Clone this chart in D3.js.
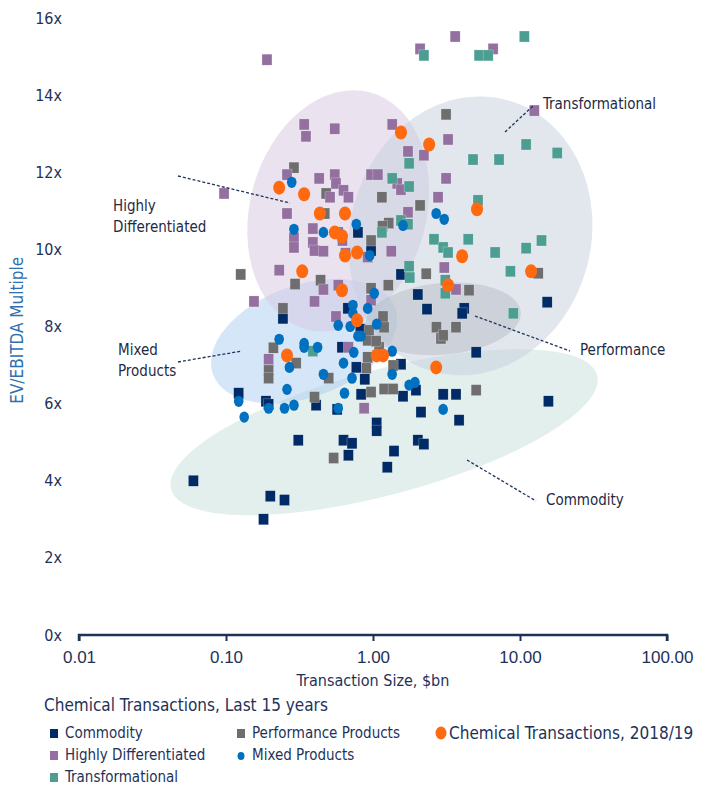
<!DOCTYPE html>
<html>
<head>
<meta charset="utf-8">
<script src="https://cdn.jsdelivr.net/npm/d3@7"></script>
<style>
  body { margin: 0; background: #fff; }
  svg { display: block; font-family: "Liberation Sans Narrow", "DejaVu Sans Condensed", "Roboto Condensed", "Arial Narrow", sans-serif; }
</style>
</head>
<body>
<div id="chart"></div>
<script>
// deal size ($bn), EV/EBITDA multiple
var commodity = [
  [0.06,4.0],[0.20,3.6],[0.25,3.5],[0.18,3.0],[0.31,5.05],[0.63,5.05],[0.72,4.97],[0.68,4.66],
  [1.06,5.5],[1.06,5.3],[1.39,4.77],[1.25,4.35],[2.02,5.05],[2.22,4.95],[0.122,6.27],[0.187,6.06],
  [0.195,5.98],[0.41,5.96],[0.57,5.85],[0.83,6.24],[1.6,6.19],[1.96,6.35],[2.12,5.78],[3.0,6.24],
  [3.67,6.24],[3.85,5.57],[15.6,6.06],[1.55,9.35],[2.02,8.83],[2.33,8.45],[4.17,8.47],[4.04,8.34],
  [15.3,8.63],[5.03,7.33],[1.55,7.02],[0.88,6.63],[0.244,8.21],[0.615,7.46],[0.77,6.94],
  [0.675,8.47],[0.79,10.44],[0.97,9.97],[0.82,7.93]
];
var performance = [
  [0.29,12.12],[0.48,11.45],[1.15,11.35],[2.09,11.14],[3.14,13.5],[0.47,10.93],[1.28,10.68],[1.16,10.6],
  [0.97,10.23],[0.126,9.35],[0.295,9.1],[0.44,9.2],[1.27,9.07],[2.3,9.37],[0.244,8.47],[0.21,7.45],
  [0.195,6.86],[0.195,6.66],[0.30,7.05],[0.92,7.64],[0.94,7.9],[1.19,7.98],[0.9,6.92],[1.1,7.46],
  [0.5,6.66],[0.4,6.17],[0.97,6.3],[1.19,6.38],[1.37,6.38],[2.7,7.98],[2.9,7.69],[0.97,8.99],
  [4.5,8.94],[1.17,8.26],[3.0,7.77],[3.67,7.98],[1.05,7.62],[0.92,7.2],[1.37,6.99],[13.3,9.38],
  [5.03,6.35],[0.54,4.59]
];
var highlyDiff = [
  [0.19,14.92],[2.09,15.2],[3.62,15.52],[6.56,15.2],[12.5,13.6],[1.35,13.24],[3.24,12.85],[1.73,12.54],
  [2.22,12.44],[3.14,11.84],[2.77,11.35],[1.73,10.96],[0.34,13.24],[0.35,12.93],[0.55,13.13],[0.26,11.94],
  [0.43,11.84],[0.55,11.94],[0.56,11.71],[0.63,11.53],[0.68,11.35],[0.51,11.35],[0.97,11.94],[1.08,11.94],
  [1.46,11.71],[1.55,11.55],[0.26,10.93],[0.097,11.45],[0.29,10.3],[0.29,10.05],[0.39,10.54],[0.39,10.18],
  [0.40,9.97],[0.46,9.95],[0.58,10.44],[0.62,10.23],[0.65,9.9],[1.33,9.95],[0.23,9.46],[0.46,8.96],
  [0.58,9.07],[0.155,8.65],[0.40,8.65],[0.56,8.26],[0.97,8.68],[3.05,9.53],[0.195,7.15],[0.68,7.46],
  [0.87,5.88],[3.67,8.96],[0.92,9.8]
];
var transformational = [
  [10.7,15.52],[2.22,15.03],[5.27,15.03],[6.07,15.03],[11.0,12.72],[17.9,12.5],[4.79,12.33],[7.2,12.33],
  [1.76,12.23],[1.35,11.84],[1.76,11.63],[5.18,11.27],[1.55,10.75],[1.73,10.65],[1.15,10.44],[2.6,10.26],
  [3.0,10.05],[3.24,9.92],[4.44,10.26],[1.76,9.56],[1.78,9.27],[6.77,9.92],[11.0,10.03],[14.0,10.23],
  [8.6,9.43],[3.1,9.2],[3.1,8.86],[9.0,8.34],[0.39,7.36]
];
var mixed = [
  [0.28,11.74],[2.69,10.93],[3.05,10.78],[0.29,10.52],[0.46,10.44],[0.77,10.65],[0.95,9.84],[1.02,8.86],
  [0.73,8.55],[0.92,8.47],[0.73,8.34],[0.58,8.03],[0.70,8.0],[0.79,7.75],[0.83,7.75],[1.06,8.06],
  [0.23,7.67],[0.34,7.56],[0.34,7.46],[0.42,7.46],[0.27,6.94],[0.63,7.05],[0.74,7.33],[0.46,6.76],
  [0.72,6.66],[1.35,7.36],[1.35,6.76],[1.76,6.48],[1.93,6.55],[0.26,6.37],[0.64,6.27],[0.195,5.88],
  [0.25,5.88],[0.29,5.96],[0.58,5.88],[0.122,6.06],[0.133,5.65],[3.0,5.85],[1.6,10.62]
];
var recent = [
  [1.55,13.03],[2.41,12.72],[0.23,11.6],[0.34,11.43],[0.435,10.93],[0.645,10.93],[5.1,11.04],[0.55,10.44],
  [0.615,10.34],[0.645,9.84],[0.78,9.92],[0.33,9.43],[0.615,8.94],[0.78,8.16],[0.26,7.25],[1.06,7.25],
  [1.17,7.25],[2.69,6.94],[3.24,9.07],[4.04,9.82],[11.9,9.43]
];

var xTicks = [0.01, 0.1, 1, 10, 100];
var yTicks = [0, 2, 4, 6, 8, 10, 12, 14, 16];

// cluster ellipses: centre ($bn, multiple), half-widths in decades / multiple units, tilt
var clusterNames = ["Commodity", "Mixed Products", "Highly Differentiated", "Transformational", "Performance"];
var clusterCentres = [[1.19, 5.26], [0.34, 7.62], [0.58, 11.0], [4.6, 10.35], [3.0, 8.2]];
var clusterRadii = [[1.5, 1.62], [0.66, 1.45], [0.6, 3.18], [0.82, 3.65], [0.53, 0.93]];
var clusterTilt = [-15, -20, 15, 15, -5];

var W = 705, H = 786;
var svg = d3.select("#chart").append("svg").attr("width", W).attr("height", H);

var x = d3.scaleLog().domain([0.01, 100]).range([79, 667]);
var y = d3.scaleLinear().domain([0, 16]).range([635, 18]);
var decade = x(10) - x(1), unit = y(0) - y(1);

var navy = "#1e3259";
var fills = ["#c7e0da", "#a9cdf2", "#d8c6e0", "#c6d0de", "#b4b8c2"];
var fillOp = [0.5, 0.5, 0.5, 0.5, 0.45];

// shaded clusters
svg.append("g").selectAll("ellipse")
  .data(clusterNames)
  .enter().append("ellipse")
  .attr("transform", function(d, i) {
    return "translate(" + x(clusterCentres[i][0]) + "," + y(clusterCentres[i][1]) + ") rotate(" + clusterTilt[i] + ")";
  })
  .attr("rx", function(d, i) { return clusterRadii[i][0] * decade; })
  .attr("ry", function(d, i) { return clusterRadii[i][1] * unit; })
  .attr("fill", function(d, i) { return fills[i]; })
  .attr("fill-opacity", function(d, i) { return fillOp[i]; });

// y tick labels (no axis line)
svg.append("g").selectAll("text")
  .data(yTicks)
  .enter().append("text")
  .attr("x", 62).attr("y", function(d) { return y(d); })
  .attr("dy", "0.35em")
  .attr("text-anchor", "end")
  .attr("fill", navy)
  .style("font-size", "16px")
  .text(function(d) { return d + "x"; });

svg.append("text")
  .attr("transform", "translate(23," + y(7.9) + ") rotate(-90)")
  .attr("text-anchor", "middle")
  .attr("fill", "#2f6fb0")
  .style("font-size", "17px")
  .text("EV/EBITDA Multiple");

// x axis
var xAxis = d3.axisBottom(x).tickValues(xTicks).tickSize(6).tickPadding(10)
  .tickFormat(function(d) { return d.toFixed(2); });
var gx = svg.append("g").attr("transform", "translate(0," + y(0) + ")").call(xAxis);
gx.select(".domain").attr("stroke", navy).attr("stroke-width", 2.5).attr("d", "M" + x(0.01) + ",6V0H" + x(100) + "V6");
gx.selectAll(".tick line").attr("stroke", navy).attr("stroke-width", 2);
gx.selectAll(".tick text").attr("fill", navy).style("font-size", "17px").style("font-family", "inherit");

svg.append("text")
  .attr("x", x(1)).attr("y", 686)
  .attr("text-anchor", "middle")
  .attr("fill", navy)
  .style("font-size", "16px")
  .text("Transaction Size, $bn");

// points
function squares(data, colour) {
  svg.append("g").selectAll("rect")
    .data(data)
    .enter().append("rect")
    .attr("x", function(d) { return x(d[0]) - 5; })
    .attr("y", function(d) { return y(d[1]) - 5.5; })
    .attr("width", 10).attr("height", 11)
    .attr("fill", colour)
    .attr("stroke", "#fff").attr("stroke-width", 0.4).attr("stroke-opacity", 0.6);
}
function dots(data, colour, rx, ry) {
  svg.append("g").selectAll("ellipse")
    .data(data)
    .enter().append("ellipse")
    .attr("cx", function(d) { return x(d[0]); })
    .attr("cy", function(d) { return y(d[1]); })
    .attr("rx", rx).attr("ry", ry)
    .attr("fill", colour);
}
var cNavy = "#002b66", cGrey = "#6e6e6e", cPurple = "#93709f", cTeal = "#4d9e92", cBlue = "#0070c0", cOrange = "#ff6a10";
squares(commodity, cNavy);
squares(performance, cGrey);
squares(highlyDiff, cPurple);
squares(transformational, cTeal);
dots(mixed, cBlue, 4.8, 5.6);
dots(recent, cOrange, 6, 7);

// callouts
var notes = [
  { lines: ["Transformational"], tx: 543, ty: 104, from: [505, 132], to: [533, 106] },
  { lines: ["Highly", "Differentiated"], tx: 113, ty: 206, from: [178, 176], to: [290, 203] },
  { lines: ["Mixed", "Products"], tx: 118, ty: 350, from: [178, 362], to: [242, 351] },
  { lines: ["Performance"], tx: 580, ty: 350, from: [475, 316], to: [570, 351] },
  { lines: ["Commodity"], tx: 546, ty: 500, from: [467, 460], to: [536, 501] }
];
var ann = svg.append("g");
notes.forEach(function(n) {
  ann.append("line")
    .attr("x1", n.from[0]).attr("y1", n.from[1]).attr("x2", n.to[0]).attr("y2", n.to[1])
    .attr("stroke", navy).attr("stroke-width", 1.3).attr("stroke-dasharray", "3,2");
  n.lines.forEach(function(t, k) {
    ann.append("text")
      .attr("x", n.tx).attr("y", n.ty + k * 21)
      .attr("dy", "0.35em")
      .attr("fill", "#1f2a44")
      .style("font-size", "15px")
      .text(t);
  });
});

// legend
var lg = svg.append("g");
lg.append("text").attr("x", 44).attr("y", 705).attr("dy", "0.35em")
  .attr("fill", navy).style("font-size", "17px")
  .text("Chemical Transactions, Last 15 years");

var legendItems = [
  { name: "Commodity", colour: cNavy, shape: "sq", col: 0, row: 0 },
  { name: "Performance Products", colour: cGrey, shape: "sq", col: 1, row: 0 },
  { name: "Chemical Transactions, 2018/19", colour: cOrange, shape: "big", col: 2, row: 0 },
  { name: "Highly Differentiated", colour: cPurple, shape: "sq", col: 0, row: 1 },
  { name: "Mixed Products", colour: cBlue, shape: "dot", col: 1, row: 1 },
  { name: "Transformational", colour: cTeal, shape: "sq", col: 0, row: 2 }
];
var colX = [54, 241, 440];
legendItems.forEach(function(it) {
  var lx = colX[it.col], ly = 733 + it.row * 22;
  if (it.shape === "sq") {
    lg.append("rect").attr("x", lx - 4).attr("y", ly - 4).attr("width", 8).attr("height", 9).attr("fill", it.colour);
  } else if (it.shape === "dot") {
    lg.append("ellipse").attr("cx", lx).attr("cy", ly + 1).attr("rx", 3.5).attr("ry", 4).attr("fill", it.colour);
  } else {
    lg.append("ellipse").attr("cx", lx + 1).attr("cy", ly).attr("rx", 5.5).attr("ry", 6.5).attr("fill", it.colour);
  }
  lg.append("text")
    .attr("x", lx + (it.shape === "big" ? 9 : 11)).attr("y", ly)
    .attr("dy", "0.35em")
    .attr("fill", navy)
    .style("font-size", it.shape === "big" ? "17px" : "15px")
    .text(it.name);
});
</script>
</body>
</html>
